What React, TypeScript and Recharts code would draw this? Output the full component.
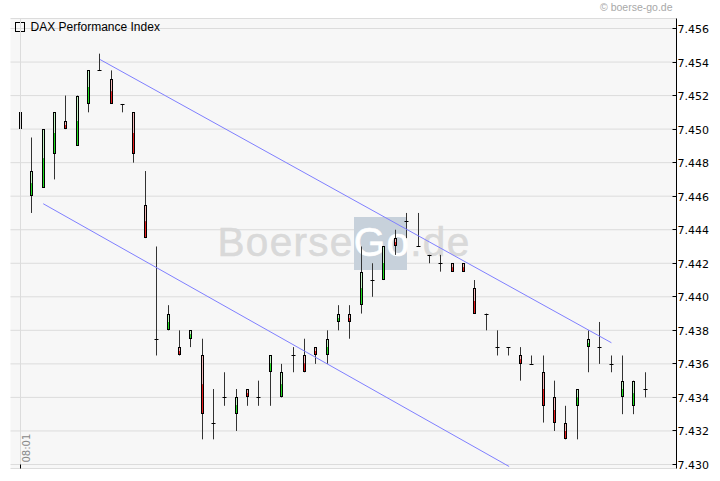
import React from 'react';
import { ComposedChart, Bar, XAxis, YAxis, CartesianGrid, ReferenceLine, Customized } from 'recharts';

const title = 'DAX Performance Index';
const copyright = '© boerse-go.de';
const timeLabel = '08:01';

const openV = [7.4510, 7.4460, 7.4465, 7.4485, 7.4505, 7.4490, 7.4515, 7.4535, 7.4530, 7.4515,
  7.4510, 7.4455, 7.4375, 7.4380, 7.4370, 7.4375, 7.4365, 7.4325, 7.4340, 7.4330,
  7.4345, 7.4340, 7.4355, 7.4340, 7.4365, 7.4365, 7.4370, 7.4365, 7.4385, 7.4390,
  7.4395, 7.4410, 7.4410, 7.4435, 7.4445, 7.4430, 7.4425, 7.4420, 7.4420, 7.4420,
  7.4405, 7.4390, 7.4370, 7.4370, 7.4365, 7.4360, 7.4355, 7.4340, 7.4325, 7.4335,
  7.4370, 7.4370, 7.4360, 7.4340, 7.4335, 7.4345];
const highV = [7.4515, 7.4495, 7.4500, 7.4510, 7.4520, 7.4520, 7.4535, 7.4545, 7.4535, 7.4515,
  7.4510, 7.4475, 7.4430, 7.4395, 7.4380, 7.4380, 7.4375, 7.4345, 7.4355, 7.4345,
  7.4345, 7.4350, 7.4365, 7.4360, 7.4370, 7.4375, 7.4370, 7.4380, 7.4395, 7.4395,
  7.4430, 7.4420, 7.4430, 7.4440, 7.4450, 7.4450, 7.4425, 7.4425, 7.4420, 7.4420,
  7.4410, 7.4390, 7.4380, 7.4370, 7.4370, 7.4365, 7.4365, 7.4350, 7.4335, 7.4345,
  7.4380, 7.4385, 7.4365, 7.4365, 7.4350, 7.4355];
const lowV = [7.4465, 7.4450, 7.4465, 7.4470, 7.4500, 7.4490, 7.4510, 7.4535, 7.4515, 7.4510,
  7.4480, 7.4435, 7.4365, 7.4380, 7.4365, 7.4370, 7.4315, 7.4315, 7.4335, 7.4320,
  7.4335, 7.4335, 7.4335, 7.4340, 7.4355, 7.4355, 7.4360, 7.4360, 7.4380, 7.4375,
  7.4390, 7.4400, 7.4410, 7.4425, 7.4435, 7.4430, 7.4420, 7.4415, 7.4415, 7.4415,
  7.4390, 7.4380, 7.4365, 7.4365, 7.4350, 7.4360, 7.4325, 7.4320, 7.4315, 7.4315,
  7.4355, 7.4360, 7.4355, 7.4330, 7.4330, 7.4340];
const closeV = [7.4500, 7.4475, 7.4500, 7.4510, 7.4500, 7.4520, 7.4535, 7.4535, 7.4515, 7.4515,
  7.4485, 7.4435, 7.4375, 7.4390, 7.4365, 7.4380, 7.4330, 7.4325, 7.4340, 7.4340,
  7.4340, 7.4340, 7.4365, 7.4355, 7.4365, 7.4355, 7.4365, 7.4375, 7.4390, 7.4385,
  7.4415, 7.4410, 7.4430, 7.4430, 7.4445, 7.4430, 7.4425, 7.4420, 7.4415, 7.4415,
  7.4390, 7.4390, 7.4370, 7.4370, 7.4360, 7.4360, 7.4335, 7.4325, 7.4315, 7.4345,
  7.4375, 7.4370, 7.4360, 7.4350, 7.4350, 7.4345];

const yTicks = [7.430, 7.432, 7.434, 7.436, 7.438, 7.440, 7.442, 7.444, 7.446, 7.448, 7.450, 7.452, 7.454, 7.456];

const upperTrend = [{ i: 7, v: 7.45415 }, { i: 52, v: 7.43726 }];
const lowerTrend = [{ i: 2, v: 7.44555 }, { i: 43, v: 7.42988 }];

const data = openV.map((o, i) => ({
  i,
  open: o,
  high: highV[i],
  low: lowV[i],
  close: closeV[i],
  range: [lowV[i], highV[i]],
}));

const X_DOMAIN: [number, number] = [-0.88, 57.728];
const Y_DOMAIN: [number, number] = [7.429761, 7.456596];

const Candle = (props: any) => {
  const { x, y, width, height, payload } = props;
  if (!payload || height == null) return null;
  const { open, close, high, low } = payload;
  const cx = Math.floor(x + width / 2) + 0.5;
  const k = high - low > 0 ? height / (high - low) : 0;
  const py = (v: number) => y + (high - v) * k;
  const yo = py(open);
  const yc = py(close);
  const wick = <line x1={cx} x2={cx} y1={y} y2={y + height} stroke="#333" strokeWidth={1} />;
  if (open === close) {
    const ty = Math.round(yo) + 0.5;
    return (
      <g>
        {wick}
        <line x1={cx - 2} x2={cx + 2} y1={ty} y2={ty} stroke="#000" strokeWidth={1} />
      </g>
    );
  }
  const up = close > open;
  const top = Math.round(Math.min(yo, yc)) + 0.5;
  const bot = Math.round(Math.max(yo, yc)) - 0.5;
  const h = Math.max(bot - top, 1);
  const light = up ? '#c4f4c4' : '#f4b8b8';
  const dark = up ? '#22dd22' : '#e82020';
  return (
    <g>
      {wick}
      <rect x={cx - 1} y={top} width={2} height={h / 2} fill={light} />
      <rect x={cx - 1} y={top + h / 2} width={2} height={h / 2} fill={dark} />
      <rect x={cx - 1} y={top} width={2} height={h} fill="none" stroke="#000" strokeWidth={1} />
    </g>
  );
};

const YTick = (props: any) => {
  const { y, payload } = props;
  const yy = Math.round(y - 0.5) + 0.5;
  return (
    <g>
      <line x1={676.5 - 4} x2={676.5} y1={yy} y2={yy} stroke="#000" />
      <text x={677.5} y={yy + 4} fontFamily="'DejaVu Sans', sans-serif" fontSize={11} fill="#000">
        {Number(payload.value).toFixed(3)}
      </text>
    </g>
  );
};

const TimeLabel = (props: any) => {
  const vb = props.viewBox || {};
  const x = Math.round(vb.x - 0.5) + 0.5;
  const bottom = (vb.y || 0) + (vb.height || 0);
  return (
    <g>
      <line x1={x} x2={x} y1={bottom - 4} y2={bottom} stroke="#000" />
      <text
        transform={`translate(${x + 9.5},${bottom - 6}) rotate(-90)`}
        fontFamily="'DejaVu Sans', sans-serif"
        fontSize={10}
        fill="#888"
      >
        {timeLabel}
      </text>
    </g>
  );
};

const Decor = () => (
  <g>
    <rect x={354} y={217} width={53} height={53} fill="#c7d1db" />
    <text x={217.5} y={256} fontFamily="'Liberation Sans', Arial, sans-serif" fontSize={40.5} letterSpacing={1.3}
      fill="#d9d9d9" stroke="#d9d9d9" strokeWidth={0.6}>
      Boerse<tspan fill="#ffffff" stroke="#ffffff">Go</tspan>.de
    </text>
    <rect x={15.5} y={22.5} width={9} height={9} fill="none" stroke="#000" />
    <text x={30.5} y={31} fontFamily="'Liberation Sans', Arial, sans-serif" fontSize={12} fill="#000">
      {title}
    </text>
    <text x={600} y={11} fontFamily="'Liberation Sans', Arial, sans-serif" fontSize={10.5} fill="#a8a8a8">
      {copyright}
    </text>
  </g>
);

export default function App() {
  return (
    <div style={{ position: 'absolute', left: 0, top: 0, width: 712, height: 473, background: '#fff' }}>
      <ComposedChart
        width={712}
        height={473}
        data={data}
        margin={{ top: 18.5, right: 0, bottom: 4.5, left: 10.5 }}
      >
        <CartesianGrid xAxisId="b" yAxisId="r" vertical={false} stroke="#dcdcdc" fill="#f7f7f7" />
        <Customized component={Decor} />
        <XAxis xAxisId="b" dataKey="i" type="number" domain={X_DOMAIN} allowDataOverflow orientation="bottom"
          height={0} tick={false} tickLine={false} axisLine={{ stroke: '#000' }} />
        <XAxis xAxisId="t" dataKey="i" type="number" domain={X_DOMAIN} allowDataOverflow orientation="top"
          height={0} tick={false} tickLine={false} axisLine={{ stroke: '#000' }} />
        <YAxis yAxisId="r" orientation="right" width={35.5} domain={Y_DOMAIN} allowDataOverflow ticks={yTicks}
          interval={0} tick={<YTick />} tickLine={false} tickSize={0} tickMargin={0} axisLine={{ stroke: '#000' }} />
        <YAxis yAxisId="l" orientation="left" width={0} domain={Y_DOMAIN} allowDataOverflow tick={false}
          tickLine={false} axisLine={{ stroke: '#000' }} />
        <ReferenceLine xAxisId="b" yAxisId="r" x={0} stroke="#dcdcdc" label={<TimeLabel />} />
        <ReferenceLine xAxisId="b" yAxisId="r" stroke="#7f7fff" strokeWidth={1}
          segment={[{ x: upperTrend[0].i, y: upperTrend[0].v }, { x: upperTrend[1].i, y: upperTrend[1].v }]} />
        <ReferenceLine xAxisId="b" yAxisId="r" stroke="#7f7fff" strokeWidth={1}
          segment={[{ x: lowerTrend[0].i, y: lowerTrend[0].v }, { x: lowerTrend[1].i, y: lowerTrend[1].v }]} />
        <Bar xAxisId="b" yAxisId="r" dataKey="range" barSize={3} isAnimationActive={false} shape={(p: any) => <Candle {...p} />} />
      </ComposedChart>
    </div>
  );
}
